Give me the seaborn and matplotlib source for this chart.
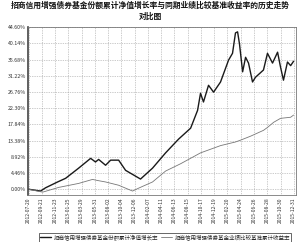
import matplotlib
matplotlib.use("Agg")
import matplotlib.pyplot as plt
import seaborn as sns
import pandas as pd
import numpy as np

sns.set_theme(style="white")
plt.rcParams['font.family'] = ['Noto Sans CJK SC', 'DejaVu Sans']

title = "招商信用增强债券基金份额累计净值增长率与同期业绩比较基准收益率的历史走势\n对比图"
fund_name = "招商信用增强债券基金份额累计净值增长率"
bench_name = "招商信用增强债券基金业绩比较基准累计收益率"

fund_dates = ["2012-07-20", "2012-09-15", "2012-10-09", "2012-12-05", "2013-01-12",
              "2013-03-15", "2013-05-11", "2013-06-03", "2013-06-18", "2013-07-21",
              "2013-08-14", "2013-09-21", "2013-10-24", "2014-01-03", "2014-03-01",
              "2014-05-02", "2014-07-03", "2014-08-29", "2014-10-01", "2014-10-15",
              "2014-10-29", "2014-11-22", "2014-12-16", "2015-01-18", "2015-02-25",
              "2015-03-16", "2015-03-30", "2015-04-09", "2015-04-18", "2015-05-03",
              "2015-05-17", "2015-05-31", "2015-06-19", "2015-07-03", "2015-08-10",
              "2015-08-29", "2015-09-22", "2015-10-16", "2015-10-30", "2015-11-13",
              "2015-12-02", "2015-12-17", "2015-12-31"]
fund_values = [0.0, -0.5, 0.4, 2.0, 3.0,
               5.8, 8.5, 7.5, 8.2, 6.6,
               8.0, 8.0, 5.2, 2.8, 5.8,
               10.0, 13.8, 16.8, 21.7, 26.4,
               24.0, 28.6, 26.7, 29.5, 35.5,
               37.4, 43.0, 43.3, 40.0, 32.3,
               36.3, 34.7, 29.5, 30.8, 32.8,
               37.4, 34.7, 37.7, 33.6, 30.0,
               35.0, 34.0, 35.2]

bench_dates = ["2012-07-20", "2012-09-25", "2012-12-10", "2013-03-15", "2013-05-20",
               "2013-06-13", "2013-07-21", "2013-09-21", "2013-10-24", "2013-11-26",
               "2013-12-25", "2014-03-01", "2014-05-02", "2014-07-12", "2014-10-15",
               "2015-01-18", "2015-03-30", "2015-04-23", "2015-06-10", "2015-08-10",
               "2015-08-29", "2015-09-27", "2015-10-30", "2015-12-17", "2015-12-31"]
bench_values = [0.0, -0.8, 0.5, 1.6, 2.7,
                2.4, 2.0, 1.1, 0.3, -0.5,
                0.3, 2.0, 5.0, 7.0, 10.0,
                12.0, 13.0, 13.5, 14.6, 16.2,
                17.0, 18.4, 19.5, 19.8, 20.4]

tick_dates = ["2012-07-20", "2012-09-21", "2012-11-23", "2013-01-25", "2013-03-29",
              "2013-05-31", "2013-08-02", "2013-10-04", "2013-12-06", "2014-02-07",
              "2014-04-11", "2014-06-13", "2014-08-15", "2014-10-17", "2014-12-19",
              "2015-02-20", "2015-04-24", "2015-06-26", "2015-08-28", "2015-10-30",
              "2015-12-31"]
y_ticks = [0.00, 4.46, 8.92, 13.38, 17.84, 22.30, 26.76, 31.22, 35.68, 40.14, 44.60]

fund_df = pd.DataFrame({"date": pd.to_datetime(fund_dates), "value": fund_values})
bench_df = pd.DataFrame({"date": pd.to_datetime(bench_dates), "value": bench_values})

fig = plt.figure(figsize=(3.0, 2.42), dpi=100)
ax = fig.add_axes([0.093, 0.194, 0.894, 0.694])

sns.lineplot(data=fund_df, x="date", y="value", ax=ax, color="#1a1a1a", linewidth=1.0,
             label=fund_name)
sns.lineplot(data=bench_df, x="date", y="value", ax=ax, color="#777777", linewidth=0.6,
             label=bench_name)

tdates = pd.to_datetime(tick_dates)
ax.set_xticks(tdates)
ax.set_xticklabels(tick_dates, rotation=90, fontsize=3.6)
ax.set_xlim(tdates[0] - pd.Timedelta(days=3), tdates[-1] + pd.Timedelta(days=12))
ax.set_yticks(y_ticks)
ax.set_yticklabels([f"{v:.2f}%" for v in y_ticks], fontsize=3.8)
ax.set_ylim(-1.6, 44.6)
ax.set_xlabel("")
ax.set_ylabel("")
ax.tick_params(axis="both", length=0, pad=1.5, colors="#333333")
ax.grid(True, color="#999999", linestyle=(0, (1, 1.5)), linewidth=0.5)
for s in ["top", "right", "bottom"]:
    ax.spines[s].set_color("#777777")
    ax.spines[s].set_linewidth(0.6)
ax.spines["left"].set_color("#444444")
ax.spines["left"].set_linewidth(1.2)

leg = ax.legend(loc="upper left", bbox_to_anchor=(0.04, -0.225), ncol=2, fontsize=4.0,
                frameon=True, fancybox=False, edgecolor="#222222", handlelength=2.0,
                handletextpad=0.4, columnspacing=0.6, borderpad=0.25, borderaxespad=0)
leg.get_frame().set_linewidth(0.6)

fig.suptitle(title, fontsize=5.6, fontweight="bold", y=0.995, color="#111111", linespacing=1.2)

fig.savefig("out.png", dpi=100)
